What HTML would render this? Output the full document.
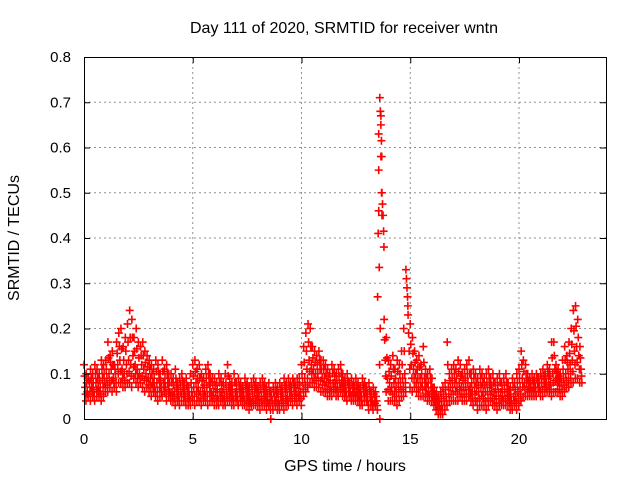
<!DOCTYPE html>
<html><head><meta charset="utf-8"><style>
body{margin:0;background:#fff}
svg{display:block;font-family:"Liberation Sans",sans-serif}
</style></head><body>
<svg id="chart" width="640" height="480" xmlns="http://www.w3.org/2000/svg">
<rect width="640" height="480" fill="#fff"/>
<text x="344" y="33" font-size="16" text-anchor="middle">Day 111 of 2020, SRMTID for receiver wntn</text>
<text transform="translate(19,238) rotate(-90)" font-size="16" text-anchor="middle">SRMTID / TECUs</text>
<text x="345" y="471" font-size="16" text-anchor="middle">GPS time / hours</text>
<g id="grid"></g>
<g id="marks"></g>
<g id="axes"></g>
</svg>
<script>
const xTicks=[0,5,10,15,20];
const yTicks=[0,0.1,0.2,0.3,0.4,0.5,0.6,0.7,0.8];
const yTickLabels=["0","0.1","0.2","0.3","0.4","0.5","0.6","0.7","0.8"];
const t0=0, tStep=0.1;
const hi=[.12,.10,.09,.11,.10,.12,.11,.10,.13,.12,
.13,.17,.14,.15,.12,.17,.19,.20,.16,.18,
.21,.24,.22,.18,.20,.17,.16,.17,.15,.14,
.13,.12,.11,.13,.12,.10,.13,.11,.12,.10,
.10,.09,.11,.08,.09,.10,.08,.09,.07,.10,
.12,.13,.11,.12,.10,.09,.11,.12,.10,.09,
.09,.08,.10,.09,.08,.10,.12,.09,.08,.10,
.08,.09,.08,.07,.09,.08,.07,.08,.09,.08,
.07,.08,.09,.08,.07,.08,.06,.07,.08,.07,
.08,.07,.09,.08,.09,.08,.09,.08,.09,.09,
.12,.16,.19,.21,.20,.16,.15,.14,.15,.13,
.13,.12,.11,.10,.12,.11,.10,.11,.12,.10,
.09,.10,.08,.09,.08,.09,.08,.07,.09,.08,
.07,.08,.06,.07,.06,.27,.71,.50,.22,.18,
.13,.12,.14,.11,.13,.12,.15,.20,.33,.23,
.21,.18,.15,.13,.14,.12,.16,.11,.10,.11,
.09,.07,.06,.05,.06,.07,.08,.17,.10,.11,
.12,.11,.13,.12,.10,.11,.12,.13,.10,.11,
.10,.09,.11,.10,.09,.10,.11,.09,.10,.08,
.09,.10,.08,.09,.10,.08,.07,.09,.08,.10,
.11,.15,.13,.12,.10,.09,.10,.09,.10,.09,
.10,.11,.10,.12,.11,.17,.17,.12,.11,.10,
.13,.16,.14,.17,.20,.24,.25,.22,.16];
const mid=[.07,.06,.08,.07,.06,.08,.07,.07,.09,.08,
.09,.10,.11,.09,.10,.12,.13,.11,.10,.12,
.13,.12,.14,.12,.11,.10,.12,.11,.10,.09,
.09,.08,.07,.08,.09,.07,.08,.07,.08,.06,
.06,.06,.07,.05,.06,.07,.05,.06,.05,.06,
.07,.08,.07,.06,.07,.06,.07,.08,.06,.06,
.06,.05,.06,.06,.05,.06,.07,.06,.05,.06,
.05,.06,.05,.05,.06,.05,.04,.05,.06,.05,
.05,.05,.06,.05,.04,.04,.04,.05,.05,.04,
.05,.05,.06,.05,.06,.06,.07,.06,.06,.06,
.08,.09,.11,.13,.12,.11,.10,.10,.11,.09,
.09,.08,.08,.07,.08,.08,.07,.08,.08,.07,
.06,.07,.06,.06,.06,.06,.05,.05,.06,.06,
.04,.05,.04,.04,.04,.55,.65,.45,.13,.09,
.08,.07,.08,.07,.08,.08,.09,.10,.29,.15,
.12,.11,.10,.09,.09,.08,.09,.07,.06,.07,
.05,.04,.03,.03,.03,.04,.05,.07,.07,.07,
.08,.07,.08,.07,.07,.07,.08,.07,.06,.07,
.06,.06,.07,.06,.06,.06,.07,.06,.06,.05,
.06,.06,.05,.06,.06,.05,.04,.05,.05,.06,
.07,.09,.08,.08,.07,.07,.07,.07,.08,.07,
.08,.08,.08,.09,.08,.10,.11,.09,.08,.08,
.09,.10,.11,.12,.13,.15,.16,.14,.11];
const lo=[.04,.05,.04,.05,.04,.05,.05,.04,.05,.06,
.06,.07,.06,.07,.06,.08,.08,.07,.07,.08,
.08,.07,.09,.08,.07,.08,.07,.06,.07,.06,
.05,.06,.05,.04,.05,.05,.06,.04,.05,.04,
.04,.03,.04,.03,.04,.04,.03,.03,.03,.04,
.03,.04,.04,.03,.04,.04,.03,.04,.04,.03,
.03,.03,.04,.03,.03,.04,.04,.03,.03,.04,
.03,.04,.03,.03,.03,.02,.03,.03,.03,.03,
.02,.03,.03,.02,.03,.00,.02,.03,.02,.02,
.03,.02,.03,.03,.04,.03,.04,.03,.04,.03,
.05,.06,.07,.08,.08,.07,.07,.07,.06,.06,
.06,.05,.05,.05,.06,.05,.05,.06,.05,.05,
.04,.05,.04,.04,.04,.04,.03,.03,.04,.04,
.02,.03,.02,.03,.02,.12,.58,.38,.06,.04,
.04,.04,.04,.03,.04,.05,.05,.06,.25,.07,
.06,.07,.06,.05,.05,.05,.05,.04,.04,.04,
.03,.02,.01,.01,.01,.02,.03,.04,.04,.04,
.04,.04,.05,.04,.04,.04,.05,.04,.03,.04,
.02,.03,.03,.03,.02,.03,.04,.03,.03,.02,
.03,.03,.03,.03,.03,.02,.02,.03,.02,.03,
.04,.05,.05,.05,.05,.05,.05,.05,.06,.05,
.05,.06,.06,.06,.05,.06,.06,.06,.05,.05,
.06,.07,.07,.08,.08,.09,.09,.08,.08];
const spikeT=[13.55,13.55,13.6,13.65,13.65,13.7,13.68,13.62];
const spikeV=[0.46,0.63,0.0,0.67,0.58,0.45,0.50,0.20];

const L=84,R=606,T=57,B=419,xMax=24,yMax=0.8;
const X=v=>L+(v/xMax)*(R-L);
const Y=v=>B-(v/yMax)*(B-T);
const NS="http://www.w3.org/2000/svg";
function mk(tag,parent){const e=document.createElementNS(NS,tag);parent.appendChild(e);return e;}
const grid=document.getElementById('grid'),axes=document.getElementById('axes'),marks=document.getElementById('marks');
xTicks.forEach(v=>{
  if(v>0){const g=mk('line',grid);
  
  
  g.setAttribute('x1',X(v));g.setAttribute('x2',X(v));g.setAttribute('y1',T);g.setAttribute('y2',B);
  g.setAttribute('stroke','#909090');g.setAttribute('stroke-dasharray','2,3');}
  [[B,B-6],[T,T+6]].forEach(p=>{const t=mk('line',axes);
  
  
  t.setAttribute('x1',X(v)+.5);t.setAttribute('x2',X(v)+.5);t.setAttribute('y1',p[0]);t.setAttribute('y2',p[1]);t.setAttribute('stroke','#000');});
  const lb=mk('text',axes);
  
  
  lb.setAttribute('x',X(v));lb.setAttribute('y',B+25);lb.setAttribute('font-size','15');lb.setAttribute('text-anchor','middle');lb.textContent=v;
});
yTicks.forEach((v,i)=>{
  if(v>0&&v<yMax){const g=mk('line',grid);
  
  
  g.setAttribute('x1',L);g.setAttribute('x2',R);g.setAttribute('y1',Y(v));g.setAttribute('y2',Y(v));
  g.setAttribute('stroke','#909090');g.setAttribute('stroke-dasharray','2,3');}
  [[L,L+6],[R,R-6]].forEach(p=>{const t=mk('line',axes);
  
  
  t.setAttribute('x1',p[0]);t.setAttribute('x2',p[1]);t.setAttribute('y1',Y(v)+.5);t.setAttribute('y2',Y(v)+.5);t.setAttribute('stroke','#000');});
  const lb=mk('text',axes);
  
  
  lb.setAttribute('x',L-13);lb.setAttribute('y',Y(v)+5);lb.setAttribute('font-size','15');lb.setAttribute('text-anchor','end');lb.textContent=yTickLabels[i];
});
const frame=mk('rect',axes);


frame.setAttribute('x',L+.5);frame.setAttribute('y',T+.5);frame.setAttribute('width',R-L);frame.setAttribute('height',B-T);
frame.setAttribute('fill','none');frame.setAttribute('stroke','#000');

let d='';
function plus(t,v){const x=X(t),y=Y(v);d+=`M${x-4} ${y}h8M${x} ${y-4}v8`;}
hi.forEach((h,i)=>{
  const t=t0+i*tStep,m=mid[i],l=lo[i];
  plus(t,h);plus(t+0.025,(h+m)/2);plus(t+0.05,m);plus(t+0.075,(m+l)/2);plus(t+0.09,l);
});
spikeT.forEach((t,i)=>plus(t,spikeV[i]));
const p=mk('path',marks);


p.setAttribute('d',d);p.setAttribute('stroke','#ff0000');p.setAttribute('stroke-width','1.6');p.setAttribute('fill','none');
</script>
</body></html>
